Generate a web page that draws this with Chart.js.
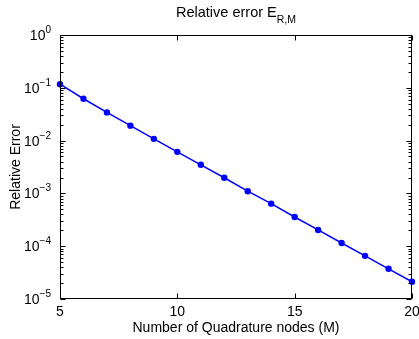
<!DOCTYPE html>
<html><head><meta charset="utf-8">
<style>html,body{margin:0;padding:0;background:#fff;overflow:hidden}</style>
<script src="https://cdn.jsdelivr.net/npm/chart.js@4/dist/chart.umd.min.js"></script>
</head><body>
<div style="width:419px;height:339px;position:relative"><canvas id="c"></canvas></div>
<script>
const nodes = [5,6,7,8,9,10,11,12,13,14,15,16,17,18,19,20];
const relErr = [0.117,0.0620,0.0342,0.0192,0.0108,0.00612,0.00348,0.00198,0.00110,0.000639,0.000357,0.000203,0.000115,0.0000656,0.0000373,0.0000212];
const xTicks = [5,10,15,20];
const yExponents = [0,-1,-2,-3,-4,-5];
const titleMain = 'Relative error E';
const titleSub = 'R,M';
const xTitle = 'Number of Quadrature nodes (M)';
const yTitle = 'Relative Error';

const FONT = 'Liberation Sans, Arial, sans-serif';

const framePlugin = {
  id: 'frame',
  afterDraw(chart) {
    const ctx = chart.ctx, a = chart.chartArea;
    const xs = chart.scales.x, ys = chart.scales.y;
    ctx.save();
    ctx.strokeStyle = '#000';
    ctx.lineWidth = 1;
    const L = Math.round(a.left)+0.5, R = Math.round(a.right)-0.5, T = Math.round(a.top)+0.5, B = Math.round(a.bottom)-0.5;
    ctx.strokeRect(L, T, R-L, B-T);
    ctx.beginPath();
    xTicks.forEach(v => {
      const px = Math.round(xs.getPixelForValue(v))+0.5;
      ctx.moveTo(px, B); ctx.lineTo(px, B-5);
      ctx.moveTo(px, T); ctx.lineTo(px, T+5);
    });
    yExponents.forEach(e => {
      const py = Math.round(ys.getPixelForValue(Math.pow(10,e)))+0.5;
      ctx.moveTo(L, py); ctx.lineTo(L+5, py);
      ctx.moveTo(R, py); ctx.lineTo(R-5, py);
      if (e > -5) {
        for (let m = 2; m <= 9; m++) {
          const q = Math.round(ys.getPixelForValue(m*Math.pow(10,e-1)))+0.5;
          ctx.moveTo(L, q); ctx.lineTo(L+3, q);
          ctx.moveTo(R, q); ctx.lineTo(R-3, q);
        }
      }
    });
    ctx.stroke();
    ctx.fillStyle = '#000';
    ctx.textBaseline = 'alphabetic';
    yExponents.forEach(e => {
      const py = ys.getPixelForValue(Math.pow(10,e));
      ctx.font = '10px ' + FONT;
      const sup = e === 0 ? '0' : '\u2212' + Math.abs(e);
      const sw = ctx.measureText(sup).width;
      const xr = a.left - 9;
      ctx.textAlign = 'right';
      ctx.fillText(sup, xr, py - 2);
      ctx.font = '14px ' + FONT;
      ctx.fillText('10', xr - sw, py + 5);
    });
    ctx.font = '14.5px ' + FONT;
    const mw = ctx.measureText(titleMain).width;
    ctx.font = '10.5px ' + FONT;
    const sw2 = ctx.measureText(titleSub).width;
    const cx = (a.left + a.right) / 2;
    const x0 = cx - (mw + sw2) / 2;
    ctx.textAlign = 'left';
    ctx.font = '14.5px ' + FONT;
    ctx.fillText(titleMain, x0, 17);
    ctx.font = '10.5px ' + FONT;
    ctx.fillText(titleSub, x0 + mw, 22.5);
    ctx.restore();
  }
};

new Chart(document.getElementById('c'), {
  type: 'line',
  data: {
    datasets: [{
      data: nodes.map((n, i) => ({x: n, y: relErr[i]})),
      borderColor: '#0000ff',
      backgroundColor: '#0000ff',
      borderWidth: 1.5,
      pointRadius: 3.2,
      pointBorderWidth: 0,
      pointHoverRadius: 3.2,
      tension: 0,
      clip: false
    }]
  },
  options: {
    responsive: true,
    maintainAspectRatio: false,
    animation: false,
    devicePixelRatio: 1,
    layout: {padding: {top: 35, right: 7, left: 0, bottom: 0}},
    plugins: {legend: {display: false}, tooltip: {enabled: false}, title: {display: false}},
    scales: {
      x: {
        type: 'linear', min: 5, max: 20,
        afterBuildTicks(s) { s.ticks = xTicks.map(v => ({value: v})); },
        afterFit(s) { s.height = 40; s.paddingLeft = 0; s.paddingRight = 0; },
        ticks: {color: '#000', font: {family: FONT, size: 14}, padding: 5, maxRotation: 0},
        grid: {display: false, drawTicks: false},
        border: {display: false},
        title: {display: true, text: xTitle, color: '#000', font: {family: FONT, size: 14}, padding: {top: 0, bottom: 2}}
      },
      y: {
        type: 'logarithmic', min: 1e-5, max: 1,
        afterFit(s) { s.width = 60; s.paddingTop = 0; s.paddingBottom = 0; },
        ticks: {display: false},
        grid: {display: false, drawTicks: false},
        border: {display: false},
        title: {display: true, text: yTitle, color: '#000', font: {family: FONT, size: 14}, padding: {top: 8, bottom: 0}}
      }
    }
  },
  plugins: [framePlugin]
});
</script>
</body></html>
